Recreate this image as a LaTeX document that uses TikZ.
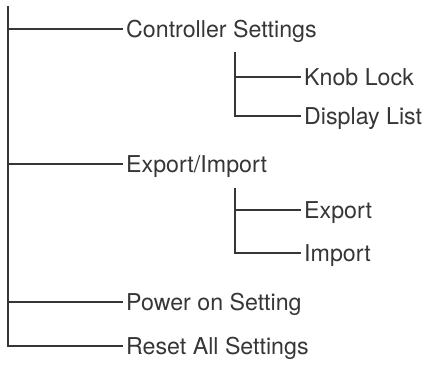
\documentclass[tikz,border=0pt]{standalone}
\usepackage{fontspec}
\setmainfont{TeX Gyre Heros}
\usepackage{tikz}
\definecolor{treegray}{HTML}{363636}

\begin{document}
\begin{tikzpicture}[x=1pt,y=-1pt,
    item/.style={anchor=west, inner xsep=3pt, inner ysep=0pt,
      text height=16.5pt, text depth=0pt,
      font=\fontsize{23.2}{28}\selectfont, text=treegray},
    branch/.style={draw=treegray, line width=1.4pt}]
      \useasboundingbox (0,0) rectangle (427,365);

      % main menu
      \node[item] (ctrl) at (123,29) {Controller Settings};
      \node[item] (expimp) at (123,164) {Export/Import};
      \node[item] (power) at (123,302) {Power on Setting};
      \node[item] (reset) at (123,346) {Reset All Settings};
      \coordinate (top) at (8,6);
      \draw[branch] (top) -- (reset.west -| top) -- (reset.west);
      \draw[branch] (ctrl.west -| top) -- (ctrl.west);
      \draw[branch] (expimp.west -| top) -- (expimp.west);
      \draw[branch] (power.west -| top) -- (power.west);

      % controller settings
      \node[item] (knob) at (301,77) {Knob Lock};
      \node[item] (disp) at (301,116) {Display List};
      \coordinate (ctop) at (235,52);
      \draw[branch] (ctop) -- (disp.west -| ctop) -- (disp.west);
      \draw[branch] (knob.west -| ctop) -- (knob.west);

      % export/import
      \node[item] (export) at (301,210) {Export};
      \node[item] (import) at (301,253) {Import};
      \coordinate (etop) at (235,188);
      \draw[branch] (etop) -- (import.west -| etop) -- (import.west);
      \draw[branch] (export.west -| etop) -- (export.west);
    \end{tikzpicture}
\end{document}
